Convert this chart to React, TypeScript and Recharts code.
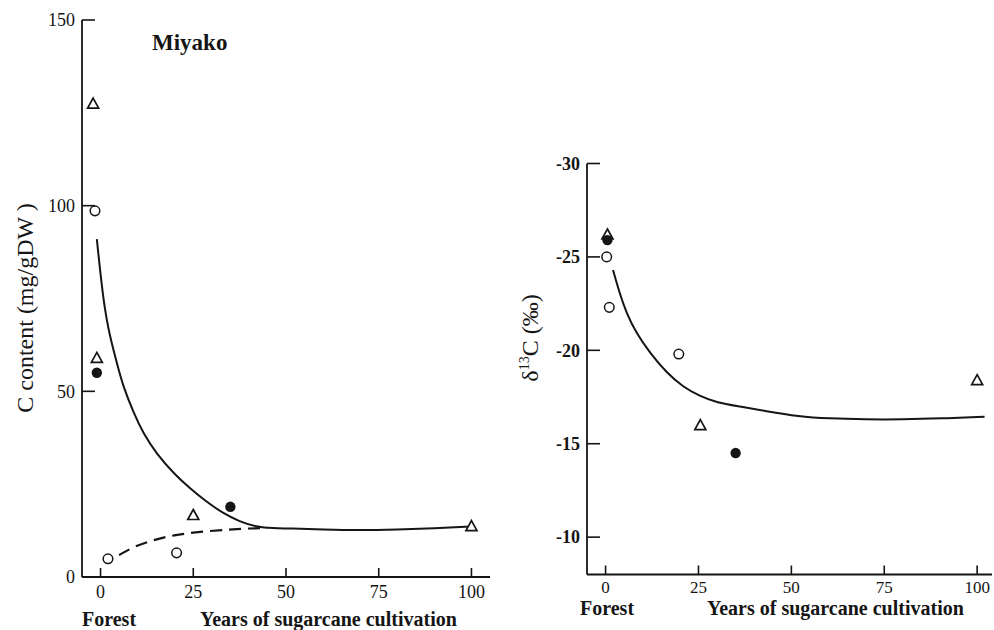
import { ComposedChart, Line, Scatter, XAxis, YAxis } from 'recharts';

const INK = '#151515';
const FONT = '"Liberation Serif", "Times New Roman", serif';

// shared x axis
const yearTicks = [0, 25, 50, 75, 100];

// left panel: C content (mg/gDW)
const carbonTicks = [0, 50, 100, 150];
const carbonTriangles = [
  { x: -2, y: 127.5 },
  { x: -1, y: 59 },
  { x: 25, y: 16.7 },
  { x: 100, y: 13.7 },
];
const carbonFilled = [
  { x: -1, y: 55 },
  { x: 35, y: 18.9 },
];
const carbonOpen = [
  { x: -1.5, y: 98.6 },
  { x: 2, y: 4.9 },
  { x: 20.5, y: 6.5 },
];
const carbonFit = [
  { x: -1, y: 91 },
  { x: 0.8, y: 73.7 },
  { x: 2.5, y: 64.8 },
  { x: 4.5, y: 57.3 },
  { x: 6, y: 51.6 },
  { x: 9, y: 44 },
  { x: 11.5, y: 38.7 },
  { x: 15, y: 33.3 },
  { x: 20, y: 27.6 },
  { x: 24, y: 24 },
  { x: 28.5, y: 20.3 },
  { x: 33, y: 17.2 },
  { x: 37.5, y: 14.9 },
  { x: 42, y: 13.5 },
  { x: 46.5, y: 13.1 },
  { x: 51, y: 13.1 },
  { x: 60, y: 12.8 },
  { x: 70, y: 12.6 },
  { x: 80, y: 12.8 },
  { x: 90, y: 13.1 },
  { x: 100, y: 13.6 },
];
const carbonFitC4 = [
  { x: 5, y: 5.9 },
  { x: 9, y: 8.2 },
  { x: 14, y: 9.9 },
  { x: 19.6, y: 11.3 },
  { x: 26.8, y: 12.2 },
  { x: 35, y: 12.8 },
  { x: 40.3, y: 13.1 },
  { x: 45, y: 13.2 },
];

// right panel: delta 13C (permil)
const deltaTicks = [-30, -25, -20, -15, -10];
const deltaTriangles = [
  { x: 0.5, y: -26.2 },
  { x: 25.5, y: -16 },
  { x: 100, y: -18.4 },
];
const deltaFilled = [
  { x: 0.5, y: -25.9 },
  { x: 35, y: -14.5 },
];
const deltaOpen = [
  { x: 0.3, y: -25 },
  { x: 1, y: -22.3 },
  { x: 19.7, y: -19.8 },
];
const deltaFit = [
  { x: 2, y: -24.3 },
  { x: 3.8, y: -23.05 },
  { x: 5.6, y: -22 },
  { x: 8.3, y: -20.9 },
  { x: 12, y: -19.85 },
  { x: 16.4, y: -18.8 },
  { x: 20.8, y: -18.05 },
  { x: 25.3, y: -17.55 },
  { x: 30, y: -17.2 },
  { x: 36, y: -17 },
  { x: 43, y: -16.75 },
  { x: 52, y: -16.46 },
  { x: 60, y: -16.35 },
  { x: 70, y: -16.3 },
  { x: 80, y: -16.3 },
  { x: 90, y: -16.35 },
  { x: 102, y: -16.45 },
];

const openCircle = (p: any) => (
  <circle cx={p.cx} cy={p.cy} r={4.8} fill="#fff" stroke={INK} strokeWidth={1.5} />
);
const filledCircle = (p: any) => <circle cx={p.cx} cy={p.cy} r={5.2} fill={INK} />;
const openTriangle = (p: any) => (
  <path
    d={`M${p.cx},${p.cy - 5.5} L${p.cx + 5.5},${p.cy + 4.5} L${p.cx - 5.5},${p.cy + 4.5} Z`}
    fill="#fff"
    stroke={INK}
    strokeWidth={1.7}
  />
);

const makeYTick = (bold: boolean) => (p: any) => (
  <g>
    <line x1={p.x} x2={p.x + 13} y1={p.y} y2={p.y} stroke={INK} strokeWidth={1.6} />
    <text
      x={p.x - 7}
      y={p.y}
      dy="0.35em"
      textAnchor="end"
      fontSize={18}
      fontFamily={FONT}
      fontWeight={bold ? 'bold' : 'normal'}
      fill={INK}
    >
      {p.payload.value}
    </text>
  </g>
);

const makeXTick = (gap: number, size: number) => (p: any) => (
  <g>
    <line x1={p.x} x2={p.x} y1={p.y} y2={p.y - 9} stroke={INK} strokeWidth={1.6} />
    <text x={p.x} y={p.y + gap} textAnchor="middle" fontSize={size} fontFamily={FONT} fill={INK}>
      {p.payload.value}
    </text>
  </g>
);

const axisLine = { stroke: INK, strokeWidth: 1.8 };

export default function App() {
  return (
    <div style={{ position: 'absolute', left: 0, top: 0, width: 994, height: 630, background: '#fff' }}>
      <div style={{ position: 'absolute', left: 0, top: 0 }}>
        <ComposedChart width={500} height={630} margin={{ top: 20, right: 10, bottom: 23, left: 22 }}>
          <XAxis
            type="number"
            dataKey="x"
            domain={[-5, 105]}
            ticks={yearTicks}
            height={30}
            tickSize={0}
            tickMargin={0}
            tickLine={false}
            axisLine={axisLine}
            tick={makeXTick(21, 18)}
            allowDataOverflow
          />
          <YAxis
            type="number"
            dataKey="y"
            domain={[0, 150]}
            ticks={carbonTicks}
            width={60}
            tickSize={0}
            tickMargin={0}
            tickLine={false}
            axisLine={axisLine}
            tick={makeYTick(false)}
            allowDataOverflow
          />
          <Line data={carbonFit} dataKey="y" type="basis" stroke={INK} strokeWidth={2} dot={false} isAnimationActive={false} />
          <Line
            data={carbonFitC4}
            dataKey="y"
            type="basis"
            stroke={INK}
            strokeWidth={2.2}
            strokeDasharray="12 7"
            dot={false}
            isAnimationActive={false}
          />
          <Scatter data={carbonTriangles} dataKey="y" shape={openTriangle} isAnimationActive={false} />
          <Scatter data={carbonFilled} dataKey="y" shape={filledCircle} isAnimationActive={false} />
          <Scatter data={carbonOpen} dataKey="y" shape={openCircle} isAnimationActive={false} />
        </ComposedChart>
      </div>
      <div style={{ position: 'absolute', left: 500, top: 0 }}>
        <ComposedChart width={494} height={630} margin={{ top: 163.5, right: 2, bottom: 25.5, left: 27 }}>
          <XAxis
            type="number"
            dataKey="x"
            domain={[-5, 104]}
            ticks={yearTicks}
            height={30}
            tickSize={0}
            tickMargin={0}
            tickLine={false}
            axisLine={axisLine}
            tick={makeXTick(18, 17)}
            allowDataOverflow
          />
          <YAxis
            type="number"
            dataKey="y"
            domain={[-30, -8]}
            reversed
            ticks={deltaTicks}
            width={60}
            tickSize={0}
            tickMargin={0}
            tickLine={false}
            axisLine={axisLine}
            tick={makeYTick(true)}
            allowDataOverflow
          />
          <Line data={deltaFit} dataKey="y" type="basis" stroke={INK} strokeWidth={2} dot={false} isAnimationActive={false} />
          <Scatter data={deltaTriangles} dataKey="y" shape={openTriangle} isAnimationActive={false} />
          <Scatter data={deltaFilled} dataKey="y" shape={filledCircle} isAnimationActive={false} />
          <Scatter data={deltaOpen} dataKey="y" shape={openCircle} isAnimationActive={false} />
        </ComposedChart>
      </div>
      {/* titles and axis names */}
      <svg width={994} height={630} style={{ position: 'absolute', left: 0, top: 0, pointerEvents: 'none' }}>
        <g fontFamily={FONT} fill={INK}>
          <text x={152} y={50} fontSize={23} fontWeight="bold">Miyako</text>
          <text transform="translate(33,308) rotate(-90)" textAnchor="middle" fontSize={24}>
            C content (mg/gDW )
          </text>
          <text transform="translate(538,338) rotate(-90)" textAnchor="middle" fontSize={24}>
            δ<tspan dy={-9} fontSize={14}>13</tspan>
            <tspan dy={9}>C (‰)</tspan>
          </text>
          <text x={82} y={626} fontSize={20} fontWeight="bold">Forest</text>
          <text x={200} y={626} fontSize={20} fontWeight="bold">Years of sugarcane cultivation</text>
          <text x={580} y={615} fontSize={20} fontWeight="bold">Forest</text>
          <text x={707} y={615} fontSize={20} fontWeight="bold">Years of sugarcane cultivation</text>
        </g>
      </svg>
    </div>
  );
}
